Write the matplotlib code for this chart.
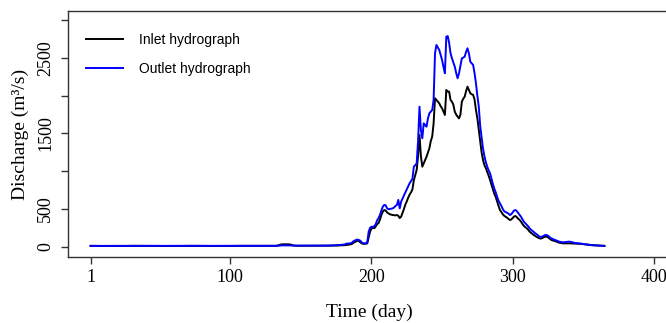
import numpy as np
import matplotlib
matplotlib.use("Agg")
import matplotlib.pyplot as plt

# daily discharge (m3/s), day 1..365
inlet = [
    12, 12, 11, 11, 11, 11, 10, 10, 10, 10, 10, 10, 10, 11, 11, 11, 11, 11, 10, 10,
    10, 10, 10, 10, 10, 10, 11, 11, 12, 12, 12, 12, 12, 13, 13, 13, 13, 12, 12, 12,
    12, 12, 12, 12, 11, 11, 11, 11, 11, 10, 10, 10, 10, 10, 10, 10, 10, 10, 10, 10,
    11, 11, 11, 11, 11, 11, 11, 11, 12, 12, 12, 12, 12, 12, 12, 12, 11, 11, 11, 11,
    11, 11, 11, 10, 10, 10, 10, 10, 10, 10, 11, 11, 11, 11, 11, 11, 11, 11, 11, 11,
    11, 11, 11, 11, 12, 12, 12, 12, 12, 12, 12, 12, 12, 12, 12, 12, 11, 11, 11, 11,
    11, 11, 11, 11, 11, 11, 12, 12, 12, 12, 12, 12, 14, 18, 25, 30, 32, 32, 32, 32,
    32, 30, 28, 20, 15, 14, 14, 13, 13, 13, 13, 13, 13, 13, 13, 13, 13, 13, 13, 13,
    13, 13, 13, 14, 14, 14, 14, 14, 14, 14, 15, 15, 15, 15, 16, 16, 17, 18, 18, 20,
    # 181-
    20, 22, 25, 28, 30, 35, 50, 60, 70, 80, 75, 60, 45, 40, 38, 40, 45, 120, 200, 240,
    250, 245, 270, 300, 314, 360, 420, 464, 486, 480, 455, 443, 430, 425, 420, 418, 415, 420, 410, 380,
    398, 450, 500, 560, 600, 650, 690, 720, 760, 880, 950, 1017, 1200, 1480, 1200, 1060, 1104, 1150, 1193, 1250,
    1303, 1400, 1458, 1634, 1966, 1943, 1920, 1899, 1860, 1833, 1790, 1745, 2076, 2054, 2054, 1943, 1921, 1880, 1789, 1750,
    1723, 1700, 1750, 1921, 1960, 1987, 2060, 2120, 2076, 2032, 2020, 2010, 1950, 1811, 1700, 1546, 1400, 1250, 1150, 1080,
    1040, 990, 940, 884, 820, 760, 700, 660, 600, 540, 486, 460, 430, 410, 398, 385, 370, 354, 360, 380,
    400, 407, 390, 370, 354, 330, 300, 275, 258, 245, 225, 200, 185, 170, 155, 142, 130, 120, 111, 108,
    115, 125, 133, 133, 125, 110, 95, 85, 80, 75, 68, 60, 53, 50, 48, 45, 45, 44, 45, 45,
    45, 44, 42, 42, 40, 40, 40, 38, 36, 34, 32, 30, 28, 26, 24, 22, 20, 19, 18, 16,
    15, 14, 13, 12, 12,
]
outlet = [
    11, 11, 11, 11, 11, 11, 11, 11, 11, 11, 11, 11, 11, 11, 11, 11, 11, 11, 11, 11,
    11, 11, 11, 11, 11, 11, 11, 11, 11, 11, 12, 12, 12, 12, 12, 12, 12, 12, 12, 12,
    12, 12, 12, 12, 12, 12, 12, 12, 12, 12, 11, 11, 11, 11, 11, 11, 11, 11, 11, 11,
    11, 11, 11, 11, 11, 11, 11, 11, 11, 11, 11, 11, 11, 11, 11, 11, 11, 11, 11, 11,
    11, 11, 11, 11, 11, 11, 11, 11, 11, 11, 11, 11, 11, 11, 11, 11, 11, 11, 11, 11,
    11, 11, 11, 11, 11, 11, 11, 11, 11, 11, 11, 11, 11, 11, 11, 11, 11, 11, 11, 11,
    11, 11, 11, 11, 11, 11, 11, 11, 11, 11, 11, 11, 12, 13, 15, 17, 18, 18, 18, 18,
    18, 18, 17, 16, 15, 14, 14, 14, 14, 14, 14, 14, 14, 14, 14, 14, 14, 14, 14, 14,
    14, 14, 15, 15, 15, 15, 15, 16, 16, 16, 17, 17, 18, 18, 19, 20, 22, 24, 26, 28,
    # 181-
    30, 40, 42, 45, 45, 50, 70, 80, 90, 95, 90, 80, 60, 45, 45, 45, 60, 200, 250, 265,
    265, 270, 300, 350, 380, 420, 480, 530, 553, 550, 510, 496, 500, 505, 508, 520, 540, 553, 620, 508,
    597, 640, 680, 720, 760, 800, 840, 870, 900, 1060, 1080, 1104, 1400, 1855, 1546, 1436, 1634, 1610, 1590, 1700,
    1767, 1790, 1811, 1943, 2561, 2672, 2640, 2606, 2540, 2473, 2380, 2297, 2782, 2790, 2700, 2561, 2495, 2440, 2385, 2300,
    2231, 2297, 2400, 2495, 2505, 2517, 2580, 2628, 2561, 2451, 2430, 2407, 2300, 2165, 2000, 1855, 1600, 1450, 1300, 1200,
    1120, 1060, 1010, 973, 900, 830, 770, 720, 660, 610, 575, 540, 500, 470, 460, 450, 440, 420, 430, 455,
    480, 486, 470, 445, 420, 395, 360, 330, 310, 290, 270, 244, 225, 210, 195, 178, 165, 150, 133, 130,
    135, 145, 155, 155, 148, 130, 115, 105, 98, 90, 82, 75, 67, 63, 60, 58, 60, 63, 66, 67,
    65, 60, 55, 50, 48, 46, 45, 42, 40, 36, 33, 30, 27, 24, 22, 20, 19, 18, 16, 15,
    14, 13, 12, 12, 11,
]
days = np.arange(1, len(inlet) + 1)

x_ticks = [1, 100, 200, 300, 400]
y_ticks = [0, 500, 1000, 1500, 2000, 2500, 3000]
y_labels = ["0", "500", "", "1500", "", "2500", ""]

serif = "Liberation Serif"
sans = "Liberation Sans"

fig = plt.figure(figsize=(6.66, 3.23), dpi=100)
ax = fig.add_axes([68 / 666, 66 / 323, 608.4 / 666, 246 / 323])

ax.plot(days, inlet, color="black", lw=1.4, label="Inlet hydrograph")
ax.plot(days, outlet, color="#0000ff", lw=1.4, label="Outlet hydrograph")

ax.set_xlim(-15, 416)
ax.set_ylim(-136, 3122)

for side in ["left", "top", "bottom"]:
    ax.spines[side].set_color("#333333")
    ax.spines[side].set_linewidth(1.0)
ax.spines["right"].set_visible(False)

ax.set_xticks(x_ticks)
ax.set_xticklabels([str(t) for t in x_ticks], fontfamily=serif, fontsize=13)
ax.set_yticks(y_ticks)
ax.set_yticklabels(y_labels, fontfamily=serif, fontsize=13, rotation=90, va="center")
ax.tick_params(axis="both", direction="out", length=5, width=1, color="#333333")
ax.tick_params(axis="x", pad=4)
ax.tick_params(axis="y", pad=5)

ax.set_xlabel("Time (day)", fontfamily=serif, fontsize=14, ha="center", va="center")
ax.xaxis.set_label_coords(0.496, -0.2236)
ax.set_ylabel("Discharge (m³/s)", fontfamily=serif, fontsize=14, ha="center", va="center")
ax.yaxis.set_label_coords(-0.0789, 0.5)

ax.legend(loc="upper left", bbox_to_anchor=(86 / 666, 1 - 33 / 323),
          bbox_transform=fig.transFigure, frameon=False, borderpad=0,
          borderaxespad=0, handlelength=2.66, handletextpad=1.15,
          labelspacing=1.1, prop={"family": sans, "size": 10})

fig.savefig("out.png", dpi=100)
